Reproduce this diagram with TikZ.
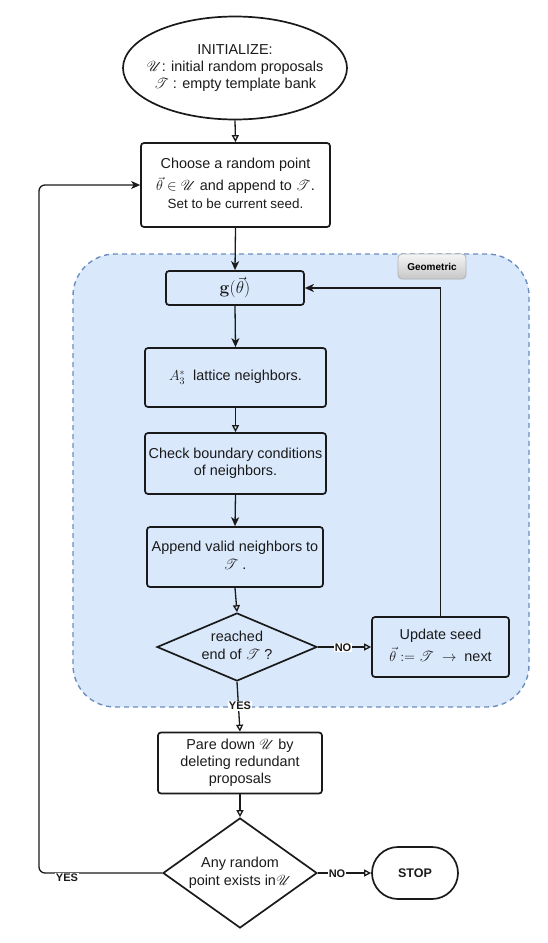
\documentclass[tikz,border=0pt]{standalone}
\usepackage[no-math]{fontspec}
\setmainfont{Liberation Sans}
\usepackage{amsmath}
\usepackage{mathrsfs}
\usetikzlibrary{shapes.geometric,arrows.meta}
\definecolor{grpfill}{HTML}{DAE8FC}
\definecolor{grpdraw}{HTML}{6C8EBF}
\definecolor{ink}{HTML}{1A1A1A}
\newcommand{\zt}[1]{\raisebox{-3.6pt}[0pt][0pt]{\makebox[0pt]{\begin{tabular}{@{}c@{}}#1\end{tabular}}}}
\newcommand{\sU}{\mathscr{U}}
\newcommand{\sT}{\mathscr{T}}
\begin{document}
\begin{tikzpicture}[x=1pt,y=-1pt,
  base/.style={draw=ink, line width=1.7pt, inner sep=0pt, text=ink,
    font=\fontsize{14.4}{17.3}\selectfont},
  procbox/.style={base, rectangle, rounded corners=3pt},
  decide/.style={base, diamond},
  term/.style={base, ellipse},
  pill/.style={base, rectangle, rounded corners=26pt},
  arr/.style={draw=ink, line width=1.3pt, -{Stealth[length=9pt,width=8pt,inset=2.5pt]}},
  oarr/.style={draw=ink, line width=1.3pt, -{Triangle[open,length=7pt,width=7pt]}},
  lbl/.style={fill=white, inner sep=1pt, text=ink, font=\bfseries\fontsize{11}{12}\selectfont},
  grp/.style={draw=grpdraw, fill=grpfill, line width=1.4pt, dash pattern=on 5pt off 4pt, rounded corners=42pt}
]
\useasboundingbox (0,0) rectangle (548,943);

% group container
\node[grp, minimum width=456pt, minimum height=453pt, inner sep=0pt] (grp) at (301,480.5) {};
\node[draw=black!30, line width=0.8pt, rounded corners=4pt, top color=white!96!black, bottom color=black!22,
      minimum width=68pt, minimum height=25pt, inner sep=0pt,
      font=\bfseries\fontsize{10}{11}\selectfont] (geo) at (432,266.5) {Geometric};

% nodes
\node[term, minimum width=224pt, minimum height=103pt] (init) at (235,68)
  {\zt{INITIALIZE:\\ $\sU$: initial random proposals\\ $\sT$ : empty template bank}};
\node[procbox, minimum width=189pt, minimum height=84pt] (box1) at (235.5,185)
  {\zt{Choose a random point\\[3pt] $\vec{\theta}\in\sU$ and append to $\sT$.\\ {\fontsize{13.4}{16}\selectfont Set to be current seed.}}};
\node[procbox, minimum width=138pt, minimum height=34pt] (g) at (235,288)
  {\zt{\fontsize{17}{19}\selectfont$\mathbf{g}(\vec{\theta})$}};
\node[procbox, minimum width=181pt, minimum height=59pt] (a3) at (235.5,377.5)
  {\zt{$A_3^{*}$ \ lattice neighbors.}};
\node[procbox, minimum width=181pt, minimum height=61pt] (chk) at (235.5,463.5)
  {\zt{Check boundary conditions\\ of neighbors.}};
\node[procbox, minimum width=176pt, minimum height=60pt] (app) at (235,557)
  {\zt{Append valid neighbors to\\ $\sT$ .}};
\node[decide, minimum width=160pt, minimum height=68pt] (d1) at (237,647)
  {\zt{reached\\ end of $\sT$ ?}};
\node[procbox, minimum width=137pt, minimum height=60pt] (upd) at (440.5,647)
  {\zt{Update seed\\[2pt] $\vec{\theta} := \sT\ \rightarrow$\ \ next}};
\node[procbox, minimum width=164pt, minimum height=61pt] (pare) at (240,763)
  {\zt{Pare down $\sU$ by\\ deleting redundant\\ proposals}};
\node[decide, minimum width=154pt, minimum height=110pt] (d2) at (240,873)
  {\zt{Any random\\ point exists in$\sU$}};
\node[pill, minimum width=86pt, minimum height=52pt, font=\bfseries\fontsize{12.5}{14}\selectfont] (stop) at (415,873)
  {STOP};

% connectors
\draw[oarr] (init.south) -- (box1.north);
\draw[arr] (box1.south) -- (g.north);
\draw[arr] (g.south) -- (a3.north);
\draw[oarr] (a3.south) -- (chk.north);
\draw[arr] (chk.south) -- (app.north);
\draw[oarr] (app.south) -- (d1.north);
\draw[oarr] (d1.east) -- (upd.west);
\node[lbl] (no1) at (343,647.5) {NO};
\draw[arr] (upd.north) |- (g.east);
\draw[oarr] (d1.south) -- (pare.north);
\node[lbl] (yes1) at (240,706) {YES};
\draw[oarr] (pare.south) -- (d2.north);
\draw[oarr] (d2.east) -- (stop.west);
\node[lbl] (no2) at (337,873.5) {NO};
\coordinate (lft) at (39,185);
\draw[arr, rounded corners=6pt] (d2.west) -| (lft) -- (box1.west);
\node[lbl] (yes2) at (67,877.5) {YES};
\end{tikzpicture}
\end{document}
